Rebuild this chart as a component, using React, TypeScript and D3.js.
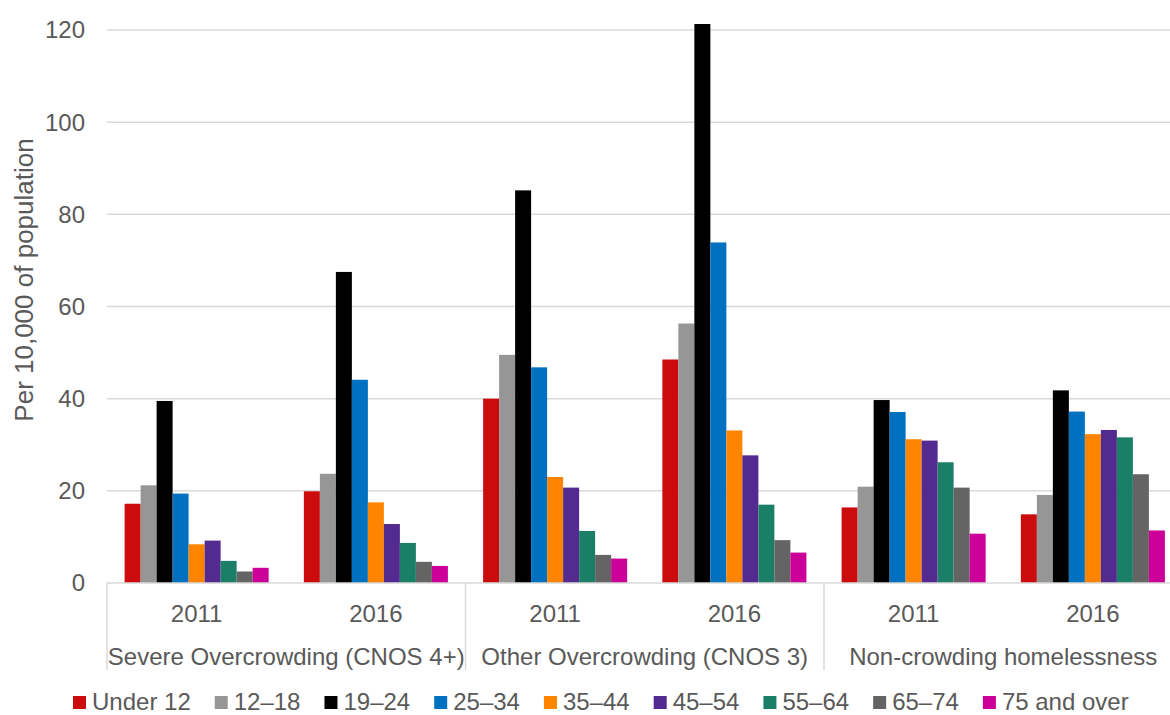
import React from "react";
import * as d3 from "d3";

// Housing categories, each reported for two census years
const categories = [
  "Severe Overcrowding (CNOS 4+)",
  "Other Overcrowding (CNOS 3)",
  "Non-crowding homelessness",
];
const years = ["2011", "2016"];

// Age groups (legend order) and their fill colours
const ageGroups = ["Under 12", "12–18", "19–24", "25–34", "35–44", "45–54", "55–64", "65–74", "75 and over"];
const ageColors = ["#CC0C0C", "#969696", "#000000", "#0070C0", "#FF8500", "#532A8F", "#1B7F67", "#646464", "#CC0099"];

// Rate per 10,000 of population, ordered:
// Severe 2011, Severe 2016, Other 2011, Other 2016, Non-crowding 2011, Non-crowding 2016
const under12 = [17.2, 19.9, 40.0, 48.5, 16.4, 14.9];
const age12to18 = [21.2, 23.7, 49.5, 56.3, 20.9, 19.1];
const age19to24 = [39.5, 67.5, 85.2, 121.3, 39.7, 41.8];
const age25to34 = [19.4, 44.1, 46.8, 73.9, 37.1, 37.2];
const age35to44 = [8.4, 17.5, 23.0, 33.1, 31.2, 32.3];
const age45to54 = [9.2, 12.8, 20.7, 27.7, 30.9, 33.2];
const age55to64 = [4.8, 8.7, 11.3, 17.0, 26.2, 31.6];
const age65to74 = [2.5, 4.6, 6.1, 9.3, 20.7, 23.6];
const age75plus = [3.3, 3.7, 5.3, 6.6, 10.7, 11.4];

const yTicks = [0, 20, 40, 60, 80, 100, 120];

const seriesValues = [under12, age12to18, age19to24, age25to34, age35to44, age45to54, age55to64, age65to74, age75plus];

const W = 1170;
const H = 715;
const FONT = "'Liberation Sans', Arial, Helvetica, sans-serif";
const TEXT = "#595959";
const GRID = "#D9D9D9";

const plotLeft = 107;
const plotRight = 1182.5;
const plotTop = 30;
const plotBottom = 583;

function measure(text: string, size: number): number {
  const c = document.createElement("canvas");
  const ctx = c.getContext("2d");
  if (!ctx) return text.length * size * 0.55;
  ctx.font = `${size}px "Liberation Sans", Arial, sans-serif`;
  return ctx.measureText(text).width;
}

export default function App() {
  const groups = categories.flatMap((c) => years.map((y) => `${c}|${y}`));

  const xCat = d3.scaleBand<string>().domain(categories).range([plotLeft, plotRight]).padding(0);
  const xGroup = d3.scaleBand<string>().domain(groups).range([plotLeft, plotRight]).padding(0);
  const xAge = d3
    .scaleBand<string>()
    .domain(ageGroups)
    .range([0, xGroup.bandwidth()])
    .paddingInner(0)
    .paddingOuter(1.1);
  const y = d3.scaleLinear().domain([0, 120]).range([plotBottom, plotTop]);

  // legend layout
  const legendY = 709.5;
  let lx = 73;
  const legendItems = ageGroups.map((name, i) => {
    const item = { name, color: ageColors[i], x: lx };
    lx += 13 + 6 + measure(name, 24) + 24;
    return item;
  });

  const sepBottom = 670;

  return (
    <svg
      width={W}
      height={H}
      style={{ position: "absolute", left: 0, top: 0, background: "#fff" }}
      fontFamily={FONT}
    >
      <rect x={0} y={0} width={W} height={H} fill="#fff" />

      {/* horizontal gridlines */}
      {yTicks.slice(1).map((t) => (
        <line key={t} x1={plotLeft} x2={plotRight} y1={y(t)} y2={y(t)} stroke={GRID} strokeWidth={1.5} />
      ))}

      {/* y tick labels */}
      {yTicks.map((t) => (
        <text key={t} x={85} y={y(t)} dy="0.35em" textAnchor="end" fontSize={24} fill={TEXT}>
          {t}
        </text>
      ))}

      {/* y axis title */}
      <text
        transform={`translate(33, 280) rotate(-90)`}
        textAnchor="middle"
        fontSize={26}
        fill={TEXT}
      >
        Per 10,000 of population
      </text>

      {/* bars */}
      {groups.map((g, gi) => (
        <g key={g} transform={`translate(${xGroup(g)},0)`}>
          {ageGroups.map((a, ai) => {
            const v = seriesValues[ai][gi];
            return (
              <rect
                key={a}
                x={xAge(a)}
                y={y(v)}
                width={xAge.bandwidth()}
                height={y(0) - y(v)}
                fill={ageColors[ai]}
              />
            );
          })}
        </g>
      ))}

      {/* category axis */}
      <line x1={plotLeft} x2={plotRight} y1={plotBottom} y2={plotBottom} stroke={GRID} strokeWidth={1.5} />
      {categories.map((c) => (
        <line
          key={c}
          x1={xCat(c)!}
          x2={xCat(c)!}
          y1={plotBottom}
          y2={sepBottom}
          stroke={GRID}
          strokeWidth={1.5}
        />
      ))}
      <line x1={plotRight} x2={plotRight} y1={plotBottom} y2={sepBottom} stroke={GRID} strokeWidth={1.5} />

      {groups.map((g) => (
        <text
          key={g}
          x={xGroup(g)! + xGroup.bandwidth() / 2}
          y={621.5}
          textAnchor="middle"
          fontSize={24}
          fill={TEXT}
        >
          {g.split("|")[1]}
        </text>
      ))}

      {categories.map((c) => (
        <text key={c} x={xCat(c)! + xCat.bandwidth() / 2} y={665} textAnchor="middle" fontSize={24} fill={TEXT}>
          {c}
        </text>
      ))}

      {/* legend */}
      {legendItems.map((it) => (
        <g key={it.name}>
          <rect x={it.x} y={legendY - 13.5} width={13} height={13} fill={it.color} />
          <text x={it.x + 19} y={legendY} fontSize={24} fill={TEXT}>
            {it.name}
          </text>
        </g>
      ))}
    </svg>
  );
}
